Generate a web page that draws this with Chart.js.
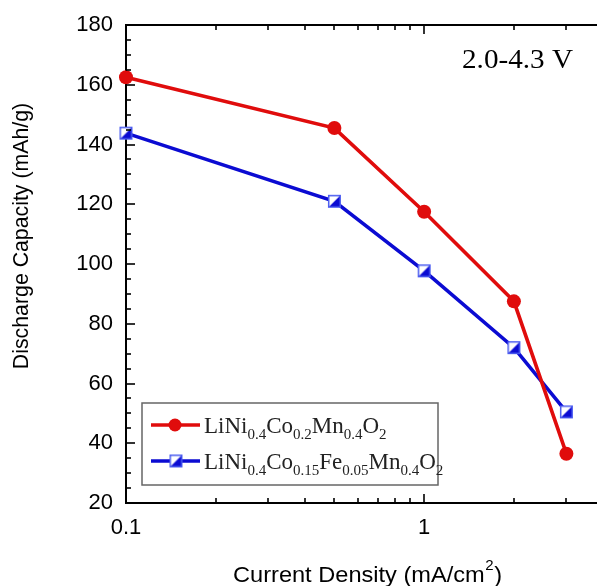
<!DOCTYPE html>
<html><head><meta charset="utf-8">
<script src="https://cdn.jsdelivr.net/npm/chart.js@4"></script>
<style>html,body{margin:0;padding:0;background:#fff;overflow:hidden}canvas{display:block}</style>
</head><body>
<canvas id="c" width="597" height="586"></canvas>
<script>
// ---- data ----
const currentDensity = [0.1, 0.5, 1, 2, 3];
const capacityNCM = [162.5, 145.5, 117.5, 87.5, 36.5];
const capacityFe = [143.8, 121, 97.7, 72, 50.5];
const xTickValues = [0.1, 0.2, 0.3, 0.4, 0.5, 0.6, 0.7, 0.8, 0.9, 1, 2, 3];
const xLabeledTicks = [0.1, 1];
const yTickValues = [20, 40, 60, 80, 100, 120, 140, 160, 180];
const yMinorStep = 5;
const seriesNames = [
  [['LiNi',0],['0.4',1],['Co',0],['0.2',1],['Mn',0],['0.4',1],['O',0],['2',1]],
  [['LiNi',0],['0.4',1],['Co',0],['0.15',1],['Fe',0],['0.05',1],['Mn',0],['0.4',1],['O',0],['2',1]]
];
const annotationText = '2.0-4.3 V';
const xTitle = 'Current Density (mA/cm';
const yTitle = 'Discharge Capacity (mAh/g)';

const RED = '#e00c0c', BLUE = '#0b0bd2';

function halfSquare(size, color) {
  const c = document.createElement('canvas');
  const s = size + 2; c.width = s; c.height = s;
  const g = c.getContext('2d');
  g.fillStyle = '#fff'; g.fillRect(1, 1, size, size);
  g.fillStyle = color; g.beginPath();
  g.moveTo(1, 1 + size); g.lineTo(1 + size, 1); g.lineTo(1 + size, 1 + size); g.closePath(); g.fill();
  g.strokeStyle = '#4b5cf0'; g.lineWidth = 1.5; g.strokeRect(1.75, 1.75, size - 1.5, size - 1.5);
  return c;
}
const blueMarker = halfSquare(13, BLUE);

const SANS = '"Liberation Sans", Arial, sans-serif';
const SERIF = '"Liberation Serif", "Times New Roman", serif';

const decor = {
  id: 'decor',
  afterDraw(chart) {
    const ctx = chart.ctx, a = chart.chartArea;
    const xs = chart.scales.x, ys = chart.scales.y;
    ctx.save();
    ctx.strokeStyle = '#000'; ctx.lineWidth = 2;
    // top border
    ctx.beginPath(); ctx.moveTo(a.left - 1, a.top); ctx.lineTo(a.right, a.top); ctx.stroke();
    // x ticks (bottom & top, inward)
    ctx.lineWidth = 1.6;
    xTickValues.forEach(v => {
      const px = Math.round(xs.getPixelForValue(v));
      const len = xLabeledTicks.includes(v) ? 9 : 5;
      ctx.beginPath(); ctx.moveTo(px, a.bottom); ctx.lineTo(px, a.bottom - len); ctx.stroke();
      ctx.beginPath(); ctx.moveTo(px, a.top); ctx.lineTo(px, a.top + len); ctx.stroke();
    });
    // y ticks inward
    for (let v = yTickValues[0]; v <= yTickValues[yTickValues.length - 1]; v += yMinorStep) {
      const py = Math.round(ys.getPixelForValue(v));
      const len = yTickValues.includes(v) ? 9 : 5;
      ctx.beginPath(); ctx.moveTo(a.left, py); ctx.lineTo(a.left + len, py); ctx.stroke();
    }
    // axis titles
    ctx.fillStyle = '#000';
    ctx.font = '21.3px ' + SANS;
    ctx.textBaseline = 'middle';
    ctx.save();
    ctx.translate(22, 236); ctx.rotate(-Math.PI / 2);
    ctx.textAlign = 'center'; ctx.fillText(yTitle, 0, 0);
    ctx.restore();
    // x title (slightly widened like the reference)
    ctx.save();
    ctx.textBaseline = 'alphabetic'; ctx.textAlign = 'left';
    ctx.font = '22px ' + SANS;
    const w1 = ctx.measureText(xTitle).width;
    ctx.font = '14px ' + SANS;
    const w2 = ctx.measureText('2').width;
    ctx.font = '22px ' + SANS;
    const w3 = ctx.measureText(')').width;
    const total = w1 + w2 + w3 + 1;
    const sx = 269 / total;
    ctx.translate(233, 582); ctx.scale(sx, 1);
    ctx.fillText(xTitle, 0, 0);
    ctx.font = '14px ' + SANS; ctx.fillText('2', w1 + 0.5, -12);
    ctx.font = '22px ' + SANS; ctx.fillText(')', w1 + w2 + 1, 0);
    ctx.restore();
    // annotation
    ctx.save();
    ctx.font = '27px ' + SERIF; ctx.textBaseline = 'alphabetic'; ctx.textAlign = 'left';
    const aw = ctx.measureText(annotationText).width;
    ctx.translate(462, 68); ctx.scale(111 / aw, 1);
    ctx.fillText(annotationText, 0, 0);
    ctx.restore();
    // legend
    ctx.strokeStyle = '#666'; ctx.lineWidth = 1.5;
    ctx.strokeRect(142, 403, 296, 82);
    ctx.textBaseline = 'alphabetic'; ctx.textAlign = 'left';
    const rows = [{y: 425, color: RED, marker: 'circle'}, {y: 461, color: BLUE, marker: 'half'}];
    rows.forEach((r, i) => {
      ctx.strokeStyle = r.color; ctx.lineWidth = 3.5;
      ctx.beginPath(); ctx.moveTo(151, r.y); ctx.lineTo(200, r.y); ctx.stroke();
      if (r.marker === 'circle') {
        ctx.fillStyle = r.color; ctx.beginPath(); ctx.arc(175, r.y, 6.5, 0, Math.PI * 2); ctx.fill();
      } else {
        ctx.drawImage(blueMarker, 176 - blueMarker.width / 2, r.y - blueMarker.height / 2);
      }
      ctx.fillStyle = '#222';
      let x = 204;
      seriesNames[i].forEach(([t, sub]) => {
        ctx.font = (sub ? '15px ' : '23px ') + SERIF;
        ctx.fillText(t, x, r.y + 8 + (sub ? 6 : 0));
        x += ctx.measureText(t).width;
      });
    });
    ctx.restore();
  }
};

const toPts = (ys) => currentDensity.map((x, i) => ({x, y: ys[i]}));

new Chart(document.getElementById('c'), {
  type: 'line',
  data: {
    datasets: [
      {label: 'LiNi0.4Co0.2Mn0.4O2', data: toPts(capacityNCM), borderColor: RED, backgroundColor: RED,
       borderWidth: 3.6, pointRadius: 7, pointHoverRadius: 7, pointBorderWidth: 0, clip: false, tension: 0},
      {label: 'LiNi0.4Co0.15Fe0.05Mn0.4O2', data: toPts(capacityFe), borderColor: BLUE, backgroundColor: BLUE,
       borderWidth: 3.6, pointStyle: blueMarker, pointRadius: 7, clip: false, tension: 0}
    ]
  },
  options: {
    responsive: false, animation: false, devicePixelRatio: 1,
    layout: {autoPadding: false, padding: {top: 25, right: 0, left: 0, bottom: 0}},
    plugins: {legend: {display: false}, tooltip: {enabled: false}},
    scales: {
      x: {
        type: 'logarithmic', min: 0.1, max: 3.8, position: 'bottom',
        afterBuildTicks: (s) => { s.ticks = xTickValues.map(v => ({value: v})); },
        afterFit: (s) => { s.height = 83; s.paddingRight = 0; s.paddingLeft = 0; },
        grid: {display: false, drawTicks: false},
        border: {display: true, color: '#000', width: 2},
        ticks: {
          autoSkip: false, maxRotation: 0, padding: 12, color: '#000',
          font: {family: SANS, size: 22},
          callback: (v) => xLabeledTicks.includes(v) ? String(v) : ''
        }
      },
      y: {
        type: 'linear', min: 20, max: 180,
        afterBuildTicks: (s) => { s.ticks = yTickValues.map(v => ({value: v})); },
        afterFit: (s) => { s.width = 126; s.paddingTop = 0; s.paddingBottom = 0; },
        grid: {display: false, drawTicks: false},
        border: {display: true, color: '#000', width: 2},
        ticks: {padding: 13, color: '#000', font: {family: SANS, size: 22}}
      }
    }
  },
  plugins: [decor]
});
</script>
</body></html>
